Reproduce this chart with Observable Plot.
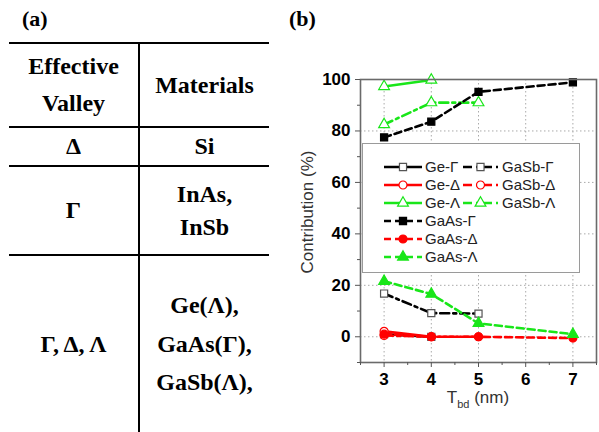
<!DOCTYPE html>
<html><head><meta charset="utf-8">
<script src="https://cdn.jsdelivr.net/npm/d3@7"></script>
<script src="https://cdn.jsdelivr.net/npm/@observablehq/plot@0.6"></script>
<style>
html,body{margin:0;padding:0;background:#fff}
body{width:599px;height:432px;overflow:hidden;position:relative;font-family:"Liberation Serif","Times New Roman",serif}
.panel{position:absolute;font:bold 22px "Liberation Serif","Times New Roman",serif;line-height:30px;color:#000}
#tbl{position:absolute;left:9px;top:42px;width:260px;border-collapse:collapse;table-layout:fixed;font:bold 24px "Liberation Serif","Times New Roman",serif;color:#000}
#tbl td{border-top:2px solid #000;border-bottom:2px solid #000;padding:0;text-align:center;vertical-align:middle}
#tbl td:first-child{border-right:2px solid #000;width:129px}
#chart{position:absolute;left:290px;top:0}
#legend{position:absolute;left:362px;top:143px;width:216px;height:128px;border:1.5px solid #9a9a9a;background:#fff}
</style></head><body>
<div class="panel" style="left:22px;top:4px">(a)</div>
<div class="panel" style="left:289px;top:4px">(b)</div>
<table id="tbl"></table>
<div id="chart"></div>
<div id="legend"></div>
<script>
// ---- table (a) ----
const tableHead = [["Effective", "Valley"], ["Materials"]];
const tableValley = ["Δ", "Γ", "Γ, Δ, Λ"];
const tableMaterials = [["Si"], ["InAs,", "InSb"], ["Ge(Λ),", "GaAs(Γ),", "GaSb(Λ),"]];

// ---- chart (b) data ----
const T = [3, 4, 5, 7];
const xTicks = [3, 4, 5, 6, 7];
const yTicks = [0, 20, 40, 60, 80, 100];
const geGamma = [1.0, 0.0];
const geDelta = [2.1, 0.0];
const geLambda = [97.3, 99.8];
const gasbGamma = [16.8, 9.2, 9.0];
const gasbDelta = [0.5, 0.0, 0.0];
const gasbLambda = [82.5, 91.0, 91.0];
const gaasGamma = [77.5, 83.6, 95.2, 98.9];
const gaasDelta = [1.0, 0.0, 0.0, -0.5];
const gaasLambda = [21.6, 16.6, 5.2, 1.0];
const seriesNames = ["Ge-Γ", "Ge-Δ", "Ge-Λ", "GaSb-Γ", "GaSb-Δ", "GaSb-Λ", "GaAs-Γ", "GaAs-Δ", "GaAs-Λ"];
const seriesValues = [geGamma, geDelta, geLambda, gasbGamma, gasbDelta, gasbLambda, gaasGamma, gaasDelta, gaasLambda];
const legendOrder = ["Ge-Γ", "GaSb-Γ", "Ge-Δ", "GaSb-Δ", "Ge-Λ", "GaSb-Λ", "GaAs-Γ", "GaAs-Δ", "GaAs-Λ"];

// ---- build table ----
const rowHeights = [84, 37, 89, 178];
const rowLine = [37, 37, 33, 38.5];
const tbl = document.getElementById("tbl");
const tRows = [[tableHead[0], tableHead[1]], ...tableValley.map((v, i) => [[v], tableMaterials[i]])];
tRows.forEach((r, i) => {
  const tr = tbl.insertRow();
  tr.style.height = rowHeights[i] + "px";
  r.forEach(lines => {
    const td = tr.insertCell();
    td.innerHTML = lines.join("<br>");
    td.style.lineHeight = rowLine[i] + "px";
  });
});

// ---- styles ----
const valleyColor = {"Γ": "#000000", "Δ": "#ff0000", "Λ": "#19e619"};
const valleySymbol = {"Γ": "square", "Δ": "circle", "Λ": "triangle"};
const matDash = {"Ge": null, "GaSb": "9,4,3,4", "GaAs": "7,4"};
const style = name => {
  const [mat, v] = name.split("-");
  const col = valleyColor[v];
  const filled = mat === "GaAs";
  return {
    color: col, dash: matDash[mat], symbol: valleySymbol[v],
    fill: filled ? col : "#fff",
    mstroke: filled ? col : (v === "Γ" ? "#555" : col)
  };
};

const data = seriesNames.map((n, k) => seriesValues[k].map((y, i) => ({name: n, x: T[i], y})));

const marks = [
  Plot.gridX(xTicks, {stroke: "#aaa", strokeOpacity: 1, strokeDasharray: "1.5,2.5"}),
  Plot.gridY(yTicks, {stroke: "#aaa", strokeOpacity: 1, strokeDasharray: "1.5,2.5"}),
];
data.forEach(d => {
  const s = style(d[0].name);
  marks.push(Plot.line(d, {x: "x", y: "y", stroke: s.color, strokeWidth: 2.6, strokeDasharray: s.dash}));
  marks.push(Plot.dot(d, {x: "x", y: "y", symbol: () => s.symbol, r: 4, fill: s.fill, stroke: s.mstroke, strokeWidth: 1.2}));
});
marks.push(
  Plot.frame({stroke: "#6a6a6a", strokeWidth: 1.6}),
  Plot.axisX(xTicks, {tickSize: 5, tickPadding: 5, fontSize: 17, fontWeight: "bold", stroke: "#555", fill: "#000", label: null}),
  Plot.axisX([2.5, 3.5, 4.5, 5.5, 6.5, 7.5], {tickSize: 3, text: null, stroke: "#555", label: null}),
  Plot.axisY(yTicks, {tickSize: 5, tickPadding: 5, fontSize: 17, fontWeight: "bold", stroke: "#555", fill: "#000", label: null}),
  Plot.axisY([-10, 10, 30, 50, 70, 90], {tickSize: 3, text: null, stroke: "#555", label: null})
);

const chart = Plot.plot({
  width: 309, height: 432,
  marginLeft: 70, marginRight: 3, marginTop: 79, marginBottom: 70,
  x: {domain: [2.5, 7.5]},
  y: {domain: [-10, 100]},
  symbol: {type: "identity"},
  style: {fontFamily: "'Liberation Sans', Arial, sans-serif", background: "transparent", overflow: "visible"},
  marks
});
document.getElementById("chart").appendChild(chart);

const svg = d3.select(chart);
svg.append("text").attr("transform", "translate(23,212) rotate(-90)")
  .attr("text-anchor", "middle").attr("font-size", 17).attr("fill", "#333")
  .attr("font-family", "'Liberation Sans', Arial, sans-serif").text("Contribution (%)");
const xl = svg.append("text").attr("x", 188).attr("y", 403).attr("text-anchor", "middle")
  .attr("font-size", 17).attr("fill", "#333").attr("font-family", "'Liberation Sans', Arial, sans-serif");
xl.append("tspan").text("T");
xl.append("tspan").attr("font-size", 11).attr("dy", 5).text("bd");
xl.append("tspan").attr("dy", -5).text(" (nm)");

// ---- legend ----
const lg = d3.select("#legend").append("svg").attr("width", 216).attr("height", 128)
  .style("font-family", "'Liberation Sans', Arial, sans-serif");
const cols = [{x0: 21, x1: 59, tx: 62}, {x0: 100, x1: 135, tx: 139}];
legendOrder.forEach((name, i) => {
  const row = i < 6 ? Math.floor(i / 2) : i - 3;
  const col = i < 6 ? i % 2 : 0;
  const c = cols[col];
  const y = 23 + row * 18;
  const s = style(name);
  const g = lg.append("g");
  g.append("line").attr("x1", c.x0).attr("x2", c.x1).attr("y1", y).attr("y2", y)
    .attr("stroke", s.color).attr("stroke-width", 2.6).attr("stroke-dasharray", s.dash);
  const sym = {square: d3.symbolSquare, circle: d3.symbolCircle, triangle: d3.symbolTriangle}[s.symbol];
  g.append("path").attr("d", d3.symbol(sym, Math.PI * 16)()).attr("transform", `translate(${(c.x0 + c.x1) / 2},${y})`)
    .attr("fill", s.fill).attr("stroke", s.mstroke).attr("stroke-width", 1.2);
  g.append("text").attr("x", c.tx).attr("y", y).attr("dy", "0.35em").attr("font-size", 15).attr("fill", "#222").text(name);
});
</script>
</body></html>
